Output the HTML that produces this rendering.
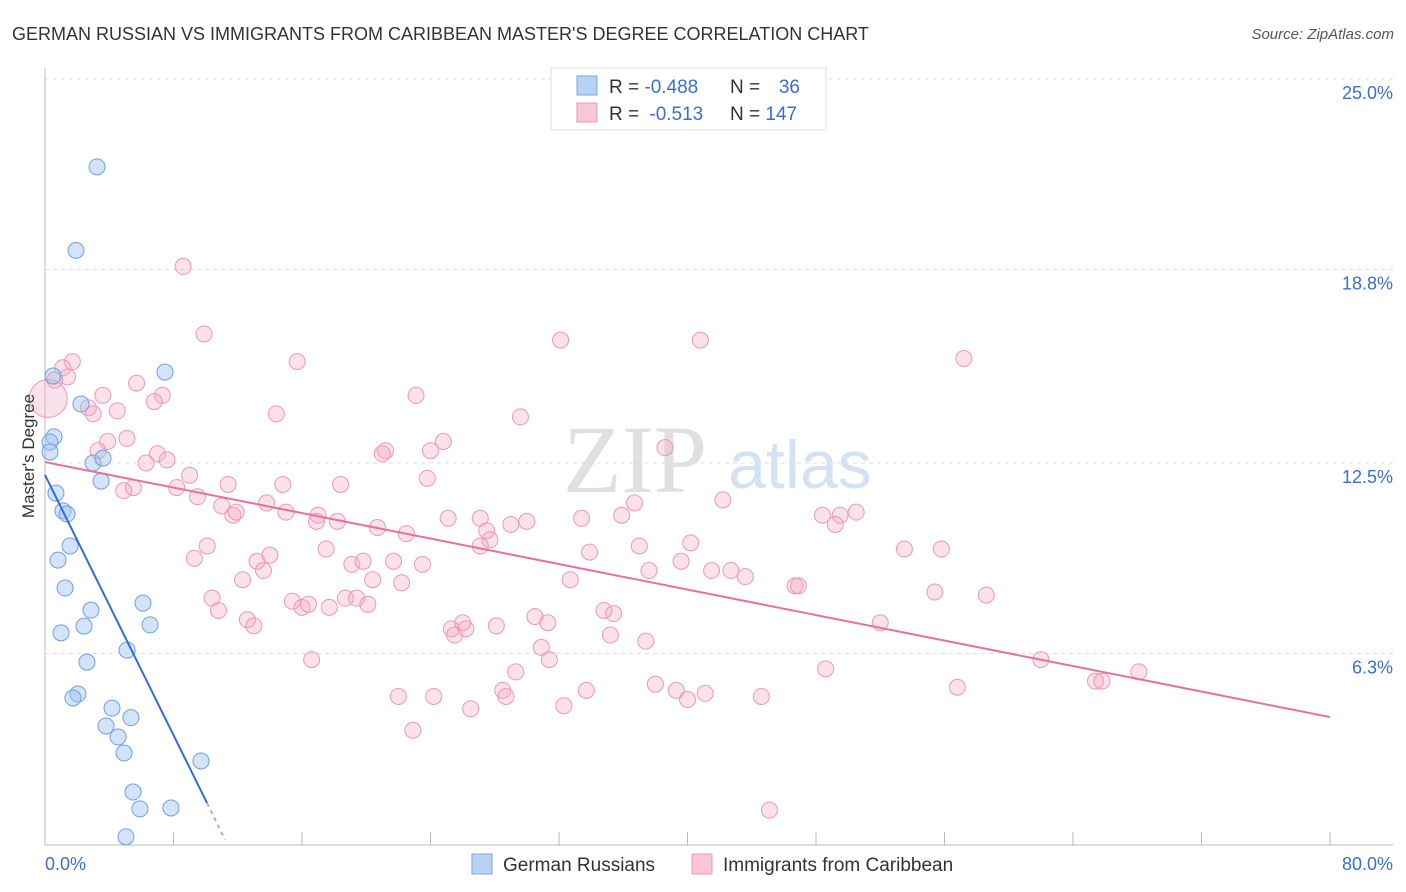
<!DOCTYPE html>
<html><head><meta charset="utf-8"><style>
body{margin:0;background:#fff;font-family:"Liberation Sans",sans-serif;}
svg{display:block}
</style></head><body>
<svg id="chart" width="1406" height="892" xmlns="http://www.w3.org/2000/svg" font-family="Liberation Sans, sans-serif">
<text x="12" y="40" font-size="18" fill="#333">GERMAN RUSSIAN VS IMMIGRANTS FROM CARIBBEAN MASTER'S DEGREE CORRELATION CHART</text>
<text x="1394" y="39" font-size="15" fill="#555" text-anchor="end" font-style="italic">Source: ZipAtlas.com</text>
<g>
<text x="635" y="492" font-size="96" fill="#e0e0e0" text-anchor="middle" font-family="Liberation Serif, serif">ZIP</text>
<text x="800" y="488" font-size="68" fill="#d4e2f4" text-anchor="middle">atlas</text>
</g>
<g id="grid"></g>
<g id="axes"></g>
<g id="pink"></g>
<g id="blue"></g>
<g id="lines"></g>
<text transform="translate(34,456) rotate(-90)" font-size="17" fill="#333" text-anchor="middle">Master's Degree</text>
<g>
<rect x="551" y="68" width="275" height="62" fill="#fff" stroke="#ddd"/>
<rect x="577" y="76" width="20" height="19" fill="#b8d2f4" stroke="#7aa6e0"/>
<rect x="577" y="103" width="20" height="19" fill="#f9c6d6" stroke="#ea9ab6"/>
<text x="609" y="93" font-size="19" fill="#333">R = <tspan fill="#3a6fd0">-0.488</tspan></text>
<text x="730" y="93" font-size="19" fill="#333">N = </text><text x="800" y="93" font-size="19" fill="#3a6fd0" text-anchor="end">36</text>
<text x="609" y="120" font-size="19" fill="#333">R = <tspan fill="#3a6fd0" dx="5">-0.513</tspan></text>
<text x="730" y="120" font-size="19" fill="#333">N = <tspan fill="#3a6fd0">147</tspan></text>
</g>
<g>
<rect x="472" y="854" width="20" height="20" fill="#b8d2f4" stroke="#7aa6e0"/>
<text x="503" y="871" font-size="19" fill="#333">German Russians</text>
<rect x="692" y="854" width="20" height="20" fill="#f9c6d6" stroke="#ea9ab6"/>
<text x="723" y="871" font-size="19" fill="#333">Immigrants from Caribbean</text>
</g>
</svg>
<script>
const yTicks=[25,18.8,12.5,6.3];
const yTickLabels=["25.0%","18.8%","12.5%","6.3%"];
const xTicks=[0,8,16,24,32,40,48,56,64,72,80];
const xEndLabels=["0.0%","80.0%"];
const blueX=[3.24,1.93,7.47,0.5,2.24,0.56,0.31,0.31,2.99,3.61,3.49,0.68,1.12,1.37,1.56,0.81,1.25,2.86,6.1,6.54,2.43,1.0,5.11,2.61,2.05,1.74,4.17,3.8,5.35,4.55,4.92,9.71,5.48,5.91,7.84,5.04];
const blueY=[22.14,19.42,15.46,15.33,14.42,13.35,13.18,12.86,12.5,12.66,11.91,11.52,10.94,10.84,9.8,9.34,8.43,7.71,7.94,7.23,7.19,6.97,6.41,6.02,4.98,4.85,4.52,3.94,4.21,3.58,3.06,2.8,1.79,1.24,1.27,0.33];
const pinkX=[8.6,9.9,15.7,32.1,40.8,57.2,1.7,1.1,1.4,0.6,0.2,5.7,3.6,7.3,6.8,2.7,3.0,4.5,14.4,23.1,29.6,5.1,3.9,3.3,7.0,6.3,7.6,9.0,8.2,4.9,5.5,9.5,11.4,14.8,13.8,11.0,11.7,11.9,15.0,18.4,21.2,21.0,24.0,24.8,23.8,38.6,42.2,36.7,17.0,16.9,18.2,20.7,22.5,25.1,27.1,27.5,27.7,27.1,29.0,30.0,33.4,35.9,48.4,49.5,49.2,50.5,9.3,10.1,12.3,13.2,14.0,13.6,17.5,19.1,19.8,20.4,21.7,22.2,23.5,32.7,33.9,37.0,37.6,39.6,40.2,41.5,42.7,43.6,46.7,46.9,53.5,55.8,10.4,10.8,12.6,13.0,15.4,16.0,16.4,17.7,18.7,19.4,20.1,25.3,25.5,26.0,26.2,28.1,30.5,31.3,34.8,35.4,35.2,37.4,52.0,55.4,58.6,16.6,30.9,31.4,29.3,22.0,24.2,26.5,28.5,28.7,32.3,33.7,38.0,39.3,40.0,41.1,44.6,48.6,56.8,62.0,65.4,65.8,68.1,22.9,45.1];
const pinkY=[18.9,16.7,15.8,16.5,16.5,15.9,15.8,15.6,15.3,15.2,14.6,15.1,14.7,14.7,14.5,14.3,14.1,14.2,14.1,14.7,14.0,13.3,13.2,12.9,12.8,12.5,12.6,12.1,11.7,11.6,11.7,11.4,11.8,11.8,11.2,11.1,10.8,10.9,10.9,11.8,12.9,12.8,12.9,13.2,12.0,13.0,11.3,11.2,10.8,10.6,10.6,10.4,10.2,10.7,10.7,10.3,10.0,9.8,10.5,10.6,10.7,10.8,10.8,10.8,10.5,10.9,9.4,9.8,8.7,9.3,9.5,9.0,9.7,9.2,9.3,8.7,9.3,8.6,9.2,8.7,9.6,9.8,9.0,9.3,9.9,9.0,9.0,8.8,8.5,8.5,9.7,9.7,8.1,7.7,7.4,7.2,8.0,7.8,7.9,7.8,8.1,8.1,7.9,7.1,6.9,7.3,7.1,7.2,7.5,7.3,7.7,7.6,6.9,6.7,7.3,8.3,8.2,6.1,6.5,6.1,5.7,4.9,4.9,4.5,5.1,4.9,4.6,5.1,5.3,5.1,4.8,5.0,4.9,5.8,5.2,6.1,5.4,5.4,5.7,3.8,1.2];
const blueTrend=[[0,12.11],[10.09,1.43]];
const blueTrendDash=[[10.09,1.43],[11.2,0.24]];
const pinkTrend=[[0,12.53],[80,4.23]];
const NS="http://www.w3.org/2000/svg";
const X0=45,X1=1330,Y0=847,PXPER=30.72;
function sx(v){return X0+(X1-X0)*v/80;}
function sy(v){return Y0-v*PXPER;}
function mk(tag,attrs,parent){const e=document.createElementNS(NS,tag);for(const k in attrs)e.setAttribute(k,attrs[k]);parent.appendChild(e);return e;}
const grid=document.getElementById('grid'),axes=document.getElementById('axes');
yTicks.forEach((t,i)=>{
 const l=mk('line',{x1:45,x2:1393,y1:sy(t),y2:sy(t),stroke:'#ddd','stroke-dasharray':'4,4'},grid);
 
 
 const tx=mk('text',{x:1393,y:sy(t)+20,'font-size':18,fill:'#3a6fd0','text-anchor':'end'},axes);
 tx.textContent=yTickLabels[i];
 
 
});
const ya=mk('line',{x1:45,x2:45,y1:68,y2:845,stroke:'#bbb'},axes);


const xa=mk('line',{x1:45,x2:1393,y1:845,y2:845,stroke:'#bbb'},axes);


xTicks.forEach(t=>{
 const l=mk('line',{x1:sx(t),x2:sx(t),y1:832,y2:845,stroke:'#bbb'},axes);
 
 
});
[[0,'start',45],[80,'end',1393]].forEach((d,i)=>{
 const tx=mk('text',{x:d[2],y:870,'font-size':18,fill:'#3a6fd0','text-anchor':d[1]},axes);
 tx.textContent=xEndLabels[i];
 
 
});
const pg=document.getElementById('pink');
pinkX.forEach((x,i)=>{
 const c=mk('circle',{cx:sx(x),cy:sy(pinkY[i]),r:(i===10?19:8),fill:'rgba(244,170,196,0.35)',stroke:'#ec98b6','stroke-width':1},pg);
 
 
});
const bg=document.getElementById('blue');
blueX.forEach((x,i)=>{
 const c=mk('circle',{cx:sx(x),cy:sy(blueY[i]),r:8,fill:'rgba(160,196,240,0.45)',stroke:'#6e9fe0','stroke-width':1},bg);
 
 
});
const lg=document.getElementById('lines');
function seg(p,col,dash,name){
 const l=mk('line',{x1:sx(p[0][0]),y1:sy(p[0][1]),x2:sx(p[1][0]),y2:sy(p[1][1]),stroke:col,'stroke-width':2},lg);
 if(dash)l.setAttribute('stroke-dasharray','4,4');
 
 
}
seg(pinkTrend,'#e8709a',false,'caribbean-trend-line');
seg(blueTrend,'#2f6fd8',false,'german-russian-trend-line');
seg(blueTrendDash,'#9bb8e6',true,'german-russian-trend-extension');
</script>
</body></html>
